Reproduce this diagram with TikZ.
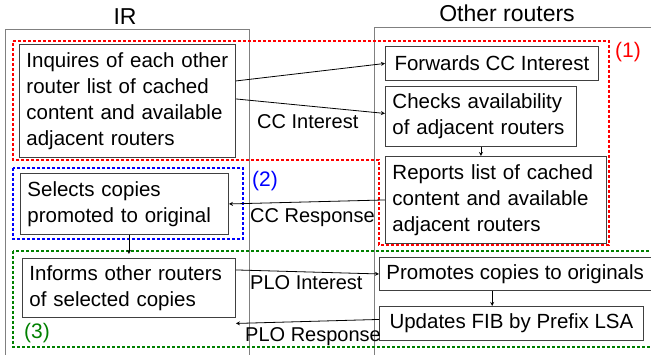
\documentclass[tikz,border=0pt]{standalone}
\usepackage{fontspec}
\setmainfont{Liberation Sans}
\begin{document}
\begin{tikzpicture}[x=1pt, y=-1pt,
    arrow/.style = {line width=0.8pt,-stealth},
    box/.style = {draw=black!75, line width=0.9pt, anchor=north west, inner xsep=7pt, inner ysep=0pt, align=left, font=\fontsize{20.5}{26}\selectfont},
    lbl/.style = {anchor=base west, inner sep=0pt, font=\fontsize{20}{24}\selectfont},
    title/.style = {anchor=base, inner sep=0pt, font=\fontsize{23}{26}\selectfont},
    zone/.style = {line width=1.2pt, dash pattern=on 3pt off 2pt},
    column/.style = {draw=black!50, line width=0.9pt}]
    \clip (0,0) rectangle (651,355);

    \draw[column] (5,360) -- (5,29) -- (249,29) -- (249,360);
    \draw[column] (374,360) -- (374,27) -- (660,27);
    \node[title] (irtitle) at (125,25) {IR};
    \node[title] (othertitle) at (507,22) {Other routers};

    \draw[zone,red]                (13,41) -- (609,41) -- (609,245) -- (379,245) -- (379,160) -- (13,160) -- cycle;
    \draw[zone,blue]               (13,168) rectangle (243,239);
    \draw[zone,green!50!black]     (13,251) rectangle (660,347);
    \node[red,   font=\fontsize{21}{24}\selectfont] (zone1) at (628,52)  {(1)};
    \node[blue,  font=\fontsize{21}{24}\selectfont] (zone2) at (265,181) {(2)};
    \node[green!50!black, font=\fontsize{21}{24}\selectfont] (zone3) at (37,333) {(3)};

    \node[box, text width=202pt, minimum height=113pt] (inq) at (19,44)  {Inquires of each other\\router list of cached\\content and available\\adjacent routers};
    \node[box, minimum width=213pt, minimum height=34pt] (fwd) at (385,46) {Forwards CC Interest};
    \node[box, text width=177pt, minimum height=60pt]  (chk) at (385,86)  {Checks availability\\of adjacent routers};
    \node[box, text width=207pt, minimum height=87pt]  (rep) at (385,156) {Reports list of cached\\content and available\\adjacent routers};
    \node[box, text width=194pt, minimum height=61pt]  (sel) at (20,173)  {Selects copies\\promoted to original};
    \node[box, text width=199pt, minimum height=59pt]  (inf) at (22,258)  {Informs other routers\\of selected copies};
    \node[box, minimum width=269pt, minimum height=33pt] (pro) at (379,257) {Promotes copies to originals};
    \node[box, minimum width=264pt, minimum height=34pt] (upd) at (379,306) {Updates FIB by Prefix LSA};

    \draw[arrow] ([yshift=20pt]inq.east) -- (fwd.west);
    \draw[arrow] ([yshift=2pt]inq.east) -- ([yshift=3pt]chk.west);
    \draw[arrow] (chk.south) -- (chk.south |- rep.north);
    \draw[arrow] (rep.west) -- (sel.east);
    \draw[arrow, shorten >=4pt] (sel.south -| inf.north) -- (inf.north);
    \draw[arrow] ([yshift=18pt]inf.east) -- (pro.west);
    \coordinate (produp) at ([xshift=-23pt]pro.south);
    \draw[arrow] (produp) -- (produp |- upd.north);
    \draw[arrow] ([yshift=4pt]upd.west) -- (inf.east |- upd.west);

    \node[lbl] (ccint)  at (257,129) {CC Interest};
    \node[lbl] (ccres)  at (250,223) {CC Response};
    \node[lbl] (ploint) at (250,290) {PLO Interest};
    \node[lbl] (plores) at (245,342) {PLO Response};
\end{tikzpicture}
\end{document}
